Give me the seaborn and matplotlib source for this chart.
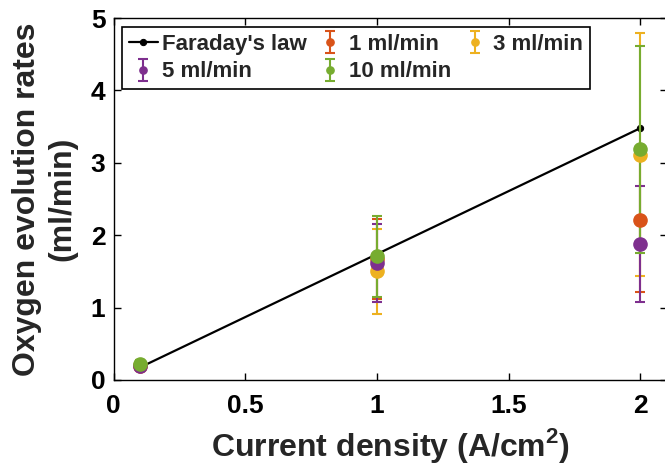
import matplotlib
matplotlib.use("Agg")
import matplotlib.pyplot as plt
import seaborn as sns

# data
current = [0.1, 1, 2]
faraday = [0.174, 1.74, 3.48]

flow_labels = ["1 ml/min", "3 ml/min", "5 ml/min", "10 ml/min"]
rate_1 = [0.20, 1.67, 2.21]
err_1 = [0.06, 0.55, 0.99]
rate_3 = [0.21, 1.50, 3.11]
err_3 = [0.06, 0.59, 1.68]
rate_5 = [0.19, 1.62, 1.88]
err_5 = [0.05, 0.54, 0.80]
rate_10 = [0.22, 1.71, 3.19]
err_10 = [0.06, 0.56, 1.43]

colors = ["#D95319", "#EDB120", "#7E2F8E", "#77AC30"]

xtick_vals = [0, 0.5, 1, 1.5, 2]
xtick_labels = ["0", "0.5", "1", "1.5", "2"]
ytick_vals = [0, 1, 2, 3, 4, 5]

# style
sns.set_style("ticks")
plt.rcParams["font.family"] = ["Liberation Sans", "DejaVu Sans"]
plt.rcParams["font.weight"] = "bold"
plt.rcParams["mathtext.fontset"] = "custom"
plt.rcParams["mathtext.rm"] = "Liberation Sans:bold"
plt.rcParams["mathtext.bf"] = "Liberation Sans:bold"

fig = plt.figure(figsize=(6.65, 4.70), dpi=100)
ax = fig.add_axes([0.171, 0.1915, 0.8316, 0.770])

# Faraday's law line
sns.lineplot(x=current, y=faraday, ax=ax, color="black", linewidth=1.6,
             marker="o", markersize=4.5, markeredgecolor="black",
             label="Faraday's law")

# measured rates with error bars
all_rates = [rate_1, rate_3, rate_5, rate_10]
all_errs = [err_1, err_3, err_5, err_10]
for rates, errs, lab, c in zip(all_rates, all_errs, flow_labels, colors):
    ax.errorbar(current, rates, yerr=errs, fmt="o", color=c, ms=9.5,
                elinewidth=1.5, capsize=3.5, capthick=1.5, label=lab)

ax.set_xlim(0, 2.1)
ax.set_ylim(0, 5)
ax.set_xticks(xtick_vals)
ax.set_xticklabels(xtick_labels)
ax.set_yticks(ytick_vals)

ax.tick_params(direction="in", top=True, right=True, length=5, width=1,
               labelsize=19, colors="black")
ax.tick_params(axis="x", pad=10)
ax.tick_params(axis="y", pad=6)
for sp in ax.spines.values():
    sp.set_linewidth(1.0)
    sp.set_color("black")

ax.set_xlabel(r"Current density (A/cm$^\mathbf{2}$)", fontsize=23,
              fontweight="bold", labelpad=6)
ax.set_ylabel("Oxygen evolution rates\n(ml/min)", fontsize=23,
              fontweight="bold", linespacing=1.25)
ax.yaxis.set_label_coords(-0.065, 0.5)

# legend in row order: Faraday, 1, 3 / 5, 10
handles, labels = ax.get_legend_handles_labels()
order = [0, 3, 1, 4, 2]
leg = ax.legend([handles[i] for i in order], [labels[i] for i in order],
                ncol=3, loc="upper left", bbox_to_anchor=(0.015, 0.975),
                borderaxespad=0, prop={"size": 16, "weight": "bold"},
                handlelength=1.3, handletextpad=0.2, columnspacing=0.4,
                labelspacing=0.3, borderpad=0.3, frameon=True,
                fancybox=False, edgecolor="black", framealpha=1,
                markerscale=0.55)
leg.get_frame().set_linewidth(1.2)
leg.legend_handles[0].set_markersize(4.5)

fig.savefig("out.png", dpi=100)
